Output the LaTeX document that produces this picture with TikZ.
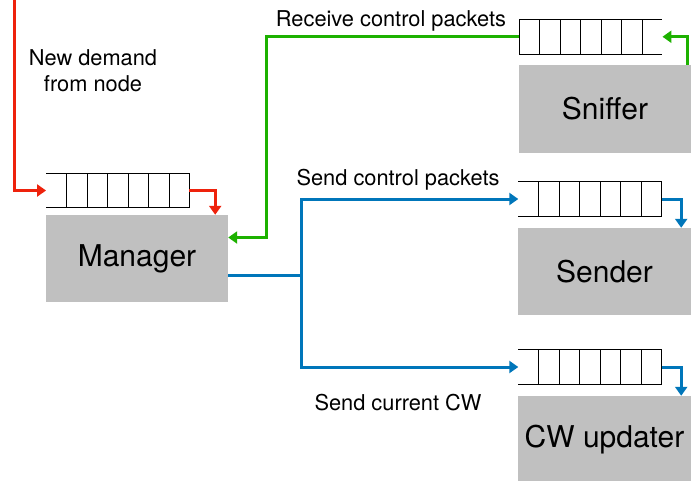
\documentclass[tikz,border=0pt]{standalone}
\usepackage{fontspec}
\setmainfont{TeX Gyre Heros}
\usetikzlibrary{calc,arrows.meta}
\definecolor{kred}{HTML}{EE220C}
\definecolor{kgreen}{HTML}{1DB100}
\definecolor{kblue}{HTML}{0076BA}
\definecolor{kgray}{HTML}{C0C0C0}
\tikzstyle{block}=[rectangle, inner sep=0pt, fill=kgray, font=\fontsize{30}{36}\selectfont]
\tikzstyle{queue}=[rectangle, inner sep=0pt, minimum width=143pt, minimum height=34pt]
\tikzstyle{cell}=[line width=0.9pt, black]
\tikzstyle{flow}=[line width=3pt, -{Triangle[length=9pt, width=12pt]}]
\tikzstyle{annot}=[inner sep=0pt, anchor=base, font=\fontsize{21.8}{26.7}\selectfont]

\begin{document}
\begin{tikzpicture}[x=1pt, y=-1pt]

\useasboundingbox (0, 0) rectangle (691, 480);

\node [block, minimum width=182pt, minimum height=87pt] (mgr) at (137, 258.5) {Manager};
\node [block, minimum width=172pt, minimum height=88pt] (snf) at (605, 109) {Sniffer};
\node [block, minimum width=173pt, minimum height=87pt] (snd) at (604.5, 271.5) {Sender};
\node [block, minimum width=173pt, minimum height=88pt] (cwu) at (604.5, 440) {CW updater};

\node [queue] (qm) at (117.75, 190.5) {};
\node [queue] (qs) at (590.75, 36.75) {};
\node [queue] (qd) at (590, 199) {};
\node [queue] (qc) at (590, 367) {};

\foreach \q in {qm, qd, qc} {
  \draw [cell] (\q.north west) -- (\q.north east) (\q.south west) -- (\q.south east);
  \foreach \i in {1,...,7}
    \draw [cell] ($(\q.north west)!\i/7!(\q.north east)$) -- ($(\q.south west)!\i/7!(\q.south east)$);
}
\draw [cell] (qs.north west) -- (qs.north east) (qs.south west) -- (qs.south east);
\foreach \i in {0,...,6}
  \draw [cell] ($(qs.north west)!\i/7!(qs.north east)$) -- ($(qs.south west)!\i/7!(qs.south east)$);

\node [annot, align=center] (dem) at (93, 91.7) {New demand\\from node};
\node [annot] (rcv) at (391, 26) {Receive control packets};
\node [annot] (sctl) at (398, 185) {Send control packets};
\node [annot] (scw) at (398, 410) {Send current CW};

\coordinate (src) at (14, 0);
\coordinate (split) at (301.5, 275);

\draw [flow, kred] (src) |- (qm.west);
\draw [flow, kred] (qm.east) -| ([xshift=-13pt]mgr.north east);

\draw [flow, kgreen] ([xshift=-4pt]snf.north east) |- (qs.east);
\draw [flow, kgreen] (qs.west) -| ($(mgr.east) + (38, -21)$) -- ($(mgr.east) + (0, -21)$);

\draw [line width=3pt, kblue] ($(mgr.east) + (0, 16.5)$) -- (split);
\draw [flow, kblue] (split) |- (qd.west);
\draw [flow, kblue] (split) |- (qc.west);
\draw [flow, kblue] (qd.east) -| ([xshift=-10pt]snd.north east);
\draw [flow, kblue] (qc.east) -| ([xshift=-10pt]cwu.north east);

\end{tikzpicture}
\end{document}
